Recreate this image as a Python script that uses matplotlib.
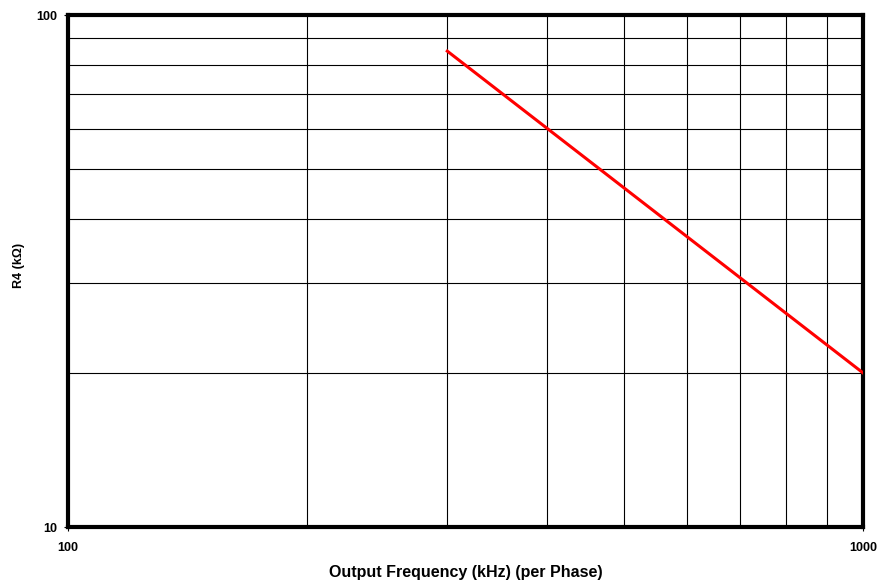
import numpy as np
import matplotlib
matplotlib.use('Agg')
import matplotlib.pyplot as plt
from matplotlib.ticker import FixedLocator, NullLocator

freq_khz = [300, 1000]
r4_kohm = [85, 20]

x_major = [100, 1000]
x_minor = [200, 300, 400, 500, 600, 700, 800, 900]
y_major = [10, 100]
y_minor = [20, 30, 40, 50, 60, 70, 80, 90]

plt.rcParams['font.family'] = ['Liberation Sans', 'DejaVu Sans']

fig = plt.figure(figsize=(8.8, 5.84), dpi=100)
ax = fig.add_axes([68 / 880, 1 - 527 / 584, 795 / 880, 512 / 584])

ax.set_xscale('log')
ax.set_yscale('log')
ax.set_xlim(100, 1000)
ax.set_ylim(10, 100)

for v in x_minor:
    ax.axvline(v, color='black', lw=0.8, zorder=1)
for v in y_minor:
    ax.axhline(v, color='black', lw=0.8, zorder=1)

ax.plot(freq_khz, r4_kohm, color='#ff0000', lw=2.2, zorder=3)

ax.xaxis.set_major_locator(FixedLocator(x_major))
ax.yaxis.set_major_locator(FixedLocator(y_major))
ax.xaxis.set_minor_locator(NullLocator())
ax.yaxis.set_minor_locator(NullLocator())
ax.set_xticklabels([str(v) for v in x_major], fontweight='bold', fontsize=9)
ax.set_yticklabels([str(v) for v in y_major], fontweight='bold', fontsize=9)
ax.tick_params(axis='both', which='major', length=3, width=0.8, direction='out')
ax.tick_params(axis='x', pad=8)
ax.tick_params(axis='y', pad=5)

for s in ax.spines.values():
    s.set_linewidth(3)
    s.set_color('black')

ax.set_xlabel('Output Frequency (kHz) (per Phase)', fontweight='bold', fontsize=11.5, va='center')
ax.set_ylabel('R4 (kΩ)', fontweight='bold', fontsize=9, va='center')
ax.xaxis.set_label_coords(0.5, -(572 - 527) / 512)
ax.yaxis.set_label_coords(-(68 - 19) / 795, 0.51)

fig.savefig('out.png', dpi=100)
